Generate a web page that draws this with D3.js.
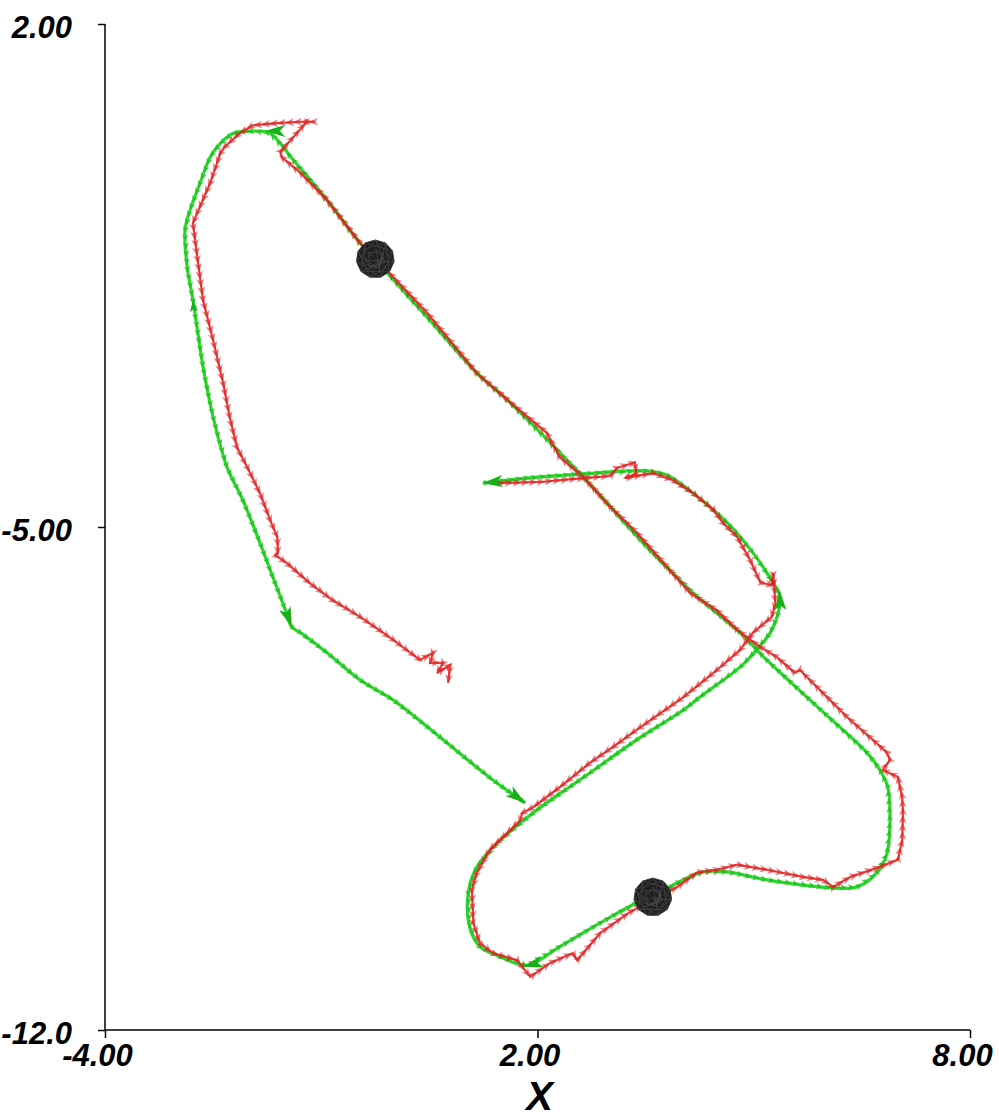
<!DOCTYPE html>
<html>
<head>
<meta charset="utf-8">
<script src="https://cdn.jsdelivr.net/npm/d3@7"></script>
<style>
  html, body { margin: 0; padding: 0; background: #fff; }
  svg { display: block; }
  .tick-label { font-family: "Liberation Sans", Arial, sans-serif; font-weight: bold; font-style: italic; font-size: 31px; fill: #000; }
</style>
</head>
<body>
<svg id="chart" width="999" height="1120"></svg>
<script>
// ---------------- data ----------------
const xTickValues = [-4, 2, 8];
const xTickLabels = ["-4.00", "2.00", "8.00"];
const yTickValues = [2, -5, -12];
const yTickLabels = ["2.00", "-5.00", "-12.0"];
const xAxisTitle = "X";

// ground-truth trajectory (green)
const truthX = [1.24,1.85,2.63,3.52,3.80,4.16,4.63,4.99,5.27,5.36,5.34,5.23,4.95,4.81,4.25,4.02,3.38,2.73,1.99,1.48,1.16,1.04,1.06,1.20,1.48,1.85,2.31,2.87,3.38,3.60,3.94,4.30,4.63,5.18,6.06,6.43,6.71,6.85,6.89,6.86,6.75,6.57,5.88,5.18,4.81,4.16,3.52,2.63,1.58,1.16,0.47,0.00,-0.25,-0.46,-0.92,-1.39,-1.71,-1.95,-2.22,-2.40,-2.54,-2.68,-2.82,-2.89,-2.86,-2.78,-2.64,-2.50,-2.31,-2.09,-1.85,-1.67,-1.48,-1.41,-1.29,-0.92,-0.46,0.00,0.47,1.38,1.83];
const truthY = [-4.39,-4.32,-4.26,-4.22,-4.28,-4.53,-4.94,-5.36,-5.78,-5.95,-6.20,-6.47,-6.81,-6.95,-7.37,-7.55,-7.96,-8.42,-8.94,-9.36,-9.73,-10.09,-10.57,-10.84,-10.98,-11.10,-10.84,-10.51,-10.23,-10.15,-9.95,-9.80,-9.80,-9.91,-10.02,-10.01,-9.81,-9.54,-9.08,-8.62,-8.38,-8.14,-7.50,-6.85,-6.47,-5.92,-5.28,-4.30,-3.23,-2.86,-2.08,-1.56,-1.27,-1.05,-0.45,0.11,0.48,0.51,0.48,0.34,0.15,-0.21,-0.59,-0.87,-1.38,-1.84,-2.77,-3.47,-4.16,-4.62,-5.22,-5.70,-6.20,-6.39,-6.47,-6.75,-7.13,-7.41,-7.78,-8.52,-8.84];

// estimated trajectory (red)
const estX = [1.44,2.08,2.63,3.01,3.10,3.35,3.37,3.21,3.60,3.88,4.16,4.44,4.57,4.77,4.95,5.09,5.25,5.27,5.30,5.25,4.99,4.81,4.49,4.02,3.38,3.05,2.73,2.31,1.94,1.79,1.76,1.58,1.34,1.16,1.09,1.11,1.20,1.38,1.72,1.90,2.17,2.49,2.55,2.87,3.28,3.60,3.94,4.21,4.49,4.77,5.18,5.68,5.96,6.10,6.34,6.75,7.00,7.06,7.07,7.06,7.00,6.79,6.89,6.85,6.65,6.29,5.96,5.82,5.64,5.57,5.32,5.09,4.77,4.49,4.12,3.80,3.38,3.01,2.63,2.31,2.13,1.58,1.16,0.47,-0.05,-0.25,-0.46,-0.92,-1.29,-1.54,-1.57,-1.20,-1.09,-1.29,-1.61,-1.95,-2.13,-2.34,-2.40,-2.54,-2.72,-2.78,-2.72,-2.64,-2.50,-2.36,-2.27,-2.17,-2.03,-1.85,-1.71,-1.61,-1.60,-1.64,-1.48,-1.16,-0.84,-0.46,0.00,0.13,0.37,0.55,0.51,0.69,0.61,0.79,0.76];
const estY = [-4.39,-4.37,-4.32,-4.29,-4.18,-4.10,-4.26,-4.32,-4.25,-4.35,-4.53,-4.76,-4.94,-5.14,-5.46,-5.77,-5.81,-5.64,-6.06,-6.25,-6.47,-6.71,-6.99,-7.37,-7.82,-8.06,-8.28,-8.62,-8.90,-8.98,-9.08,-9.26,-9.49,-9.81,-10.05,-10.51,-10.79,-10.93,-11.03,-11.26,-11.07,-10.93,-11.03,-10.65,-10.36,-10.19,-10.01,-9.81,-9.77,-9.70,-9.77,-9.87,-9.91,-10.01,-9.87,-9.73,-9.63,-9.36,-8.98,-8.76,-8.48,-8.38,-8.24,-8.14,-7.96,-7.64,-7.31,-7.17,-6.99,-7.03,-6.81,-6.67,-6.43,-6.16,-5.92,-5.56,-5.08,-4.72,-4.30,-4.03,-3.69,-3.23,-2.86,-2.02,-1.47,-1.27,-1.05,-0.45,-0.07,0.14,0.22,0.64,0.64,0.64,0.62,0.59,0.48,0.29,0.20,-0.21,-0.63,-0.77,-1.24,-1.84,-2.40,-3.00,-3.47,-3.89,-4.16,-4.53,-4.90,-5.14,-5.36,-5.39,-5.50,-5.78,-6.02,-6.25,-6.57,-6.67,-6.85,-6.75,-6.89,-6.89,-7.03,-6.92,-7.17];

// highlighted ground-truth poses (position + heading in degrees)
const poseX = [1.24, -1.78, -1.41, 1.83, 1.80, 5.36, -2.78];
const poseY = [-4.39, 0.51, -6.39, -8.84, -11.12, -5.88, -1.84];
const poseHeading = [186, 180, -70, -36, 195, 92, 95];

// landmarks
const landmarkX = [-0.25, 3.60];
const landmarkY = [-1.27, -10.15];

// ---------------- drawing ----------------
const svg = d3.select("#chart");
const x = d3.scaleLinear().domain([-4, 8]).range([105, 970]);
const y = d3.scaleLinear().domain([-12, 2]).range([1030, 24]);

const line = d3.line().x(d => x(d[0])).y(d => y(d[1]));
const smoothLine = d3.line().x(d => x(d[0])).y(d => y(d[1])).curve(d3.curveCatmullRom.alpha(0.5));
const truth = truthX.map((v, i) => [v, truthY[i]]);
const est = estX.map((v, i) => [v, estY[i]]);

function arrowsAlong(pts, spacing, offset) {
  const P = pts.map(p => [x(p[0]), y(p[1])]);
  const out = [];
  let d = offset;
  for (let i = 0; i < P.length - 1; i++) {
    const [x0, y0] = P[i], [x1, y1] = P[i + 1];
    const L = Math.hypot(x1 - x0, y1 - y0);
    if (L === 0) continue;
    const a = Math.atan2(y1 - y0, x1 - x0) * 180 / Math.PI;
    let t = d;
    while (t < L) {
      out.push({ x: x0 + (x1 - x0) * t / L, y: y0 + (y1 - y0) * t / L, a });
      t += spacing;
    }
    d = t - L;
  }
  return out;
}
function tri(len, hw) {
  return `M${len / 2},0 L${-len / 2},${-hw} L${-len / 2 + len * 0.25},0 L${-len / 2},${hw} Z`;
}

// axes
const gx = svg.append("g").attr("transform", "translate(0,1030)")
  .call(d3.axisBottom(x).tickValues(xTickValues).tickSize(8).tickPadding(10)
    .tickFormat((d, i) => xTickLabels[i]));
const gy = svg.append("g").attr("transform", "translate(105,0)")
  .call(d3.axisLeft(y).tickValues(yTickValues).tickSize(7).tickPadding(30)
    .tickFormat((d, i) => yTickLabels[i]));
[gx, gy].forEach(g => {
  g.select(".domain").attr("stroke", "#000").attr("stroke-width", 1.5);
  g.selectAll(".tick line").attr("stroke", "#000").attr("stroke-width", 1.5);
  g.selectAll(".tick text").attr("class", "tick-label").attr("font-size", null).attr("font-family", null);
});
gx.select(".domain").attr("d", "M105,0H970");
gy.select(".domain").attr("d", "M0,24V1030");
gx.selectAll(".tick text").attr("dy", "0.72em").attr("y", 14).attr("dx", -8);
gy.selectAll(".tick text").attr("x", -33).attr("dy", "0.45em");

svg.append("text")
  .attr("x", x(2) + 2).attr("y", 1110)
  .attr("text-anchor", "middle")
  .attr("font-family", "Liberation Sans, Arial, sans-serif")
  .attr("font-weight", "bold").attr("font-style", "italic")
  .attr("font-size", 40)
  .text(xAxisTitle);

// green trajectory
svg.append("path").datum(truth).attr("d", smoothLine)
  .attr("fill", "none").attr("stroke", "#2ed62e").attr("stroke-width", 3.2)
  .attr("stroke-linejoin", "round");
svg.append("g").selectAll("path").data(arrowsAlong(truth, 8, 4)).join("path")
  .attr("d", tri(6, 3.2))
  .attr("transform", d => `translate(${d.x},${d.y}) rotate(${d.a})`)
  .attr("fill", "#20c220").attr("opacity", 0.85);

// red trajectory
svg.append("path").datum(est).attr("d", line)
  .attr("fill", "none").attr("stroke", "#e01e1e").attr("stroke-width", 2.2)
  .attr("stroke-linejoin", "miter").attr("opacity", 0.85);
svg.append("g").selectAll("path").data(arrowsAlong(est, 8, 4)).join("path")
  .attr("d", tri(9, 3.8))
  .attr("transform", d => `translate(${d.x},${d.y}) rotate(${d.a})`)
  .attr("fill", "#e02424").attr("opacity", 0.6);

// highlighted poses
svg.append("g").selectAll("path").data(poseX.map((v, i) => ({ x: x(v), y: y(poseY[i]), a: -poseHeading[i], big: i < 6 })))
  .join("path")
  .attr("d", d => d.big ? "M0,0 L-20,-6 L-15,0 L-20,6 Z" : "M0,0 L-12,-4 L-9,0 L-12,4 Z")
  .attr("transform", d => `translate(${d.x},${d.y}) rotate(${d.a})`)
  .attr("fill", "#18b018");

// landmarks
const lmG = svg.append("g").selectAll("g").data(landmarkX.map((v, i) => [x(v), y(landmarkY[i])])).join("g")
  .attr("transform", d => `translate(${d[0]},${d[1]})`);
const n = 11, R = 19;
const verts = d3.range(n).map(k => [R * Math.cos(2 * Math.PI * k / n - Math.PI / 2), R * Math.sin(2 * Math.PI * k / n - Math.PI / 2)]);
const inner = d3.range(7).map(k => [10 * Math.cos(2 * Math.PI * k / 7 + 0.3), 10 * Math.sin(2 * Math.PI * k / 7 + 0.3)]);
lmG.append("polygon").attr("points", verts.map(p => p.join(",")).join(" "))
  .attr("fill", "#1e1e1e").attr("stroke", "#3a3a3a").attr("stroke-width", 1);
const wire = [];
verts.forEach((p, k) => { wire.push([p, verts[(k + 3) % n]]); wire.push([p, inner[k % 7]]); });
inner.forEach((p, k) => { wire.push([p, inner[(k + 2) % 7]]); });
lmG.selectAll("line").data(wire).join("line")
  .attr("x1", d => d[0][0]).attr("y1", d => d[0][1])
  .attr("x2", d => d[1][0]).attr("y2", d => d[1][1])
  .attr("stroke", "#5a5a5a").attr("stroke-width", 0.6).attr("opacity", 0.8);
</script>
</body>
</html>
